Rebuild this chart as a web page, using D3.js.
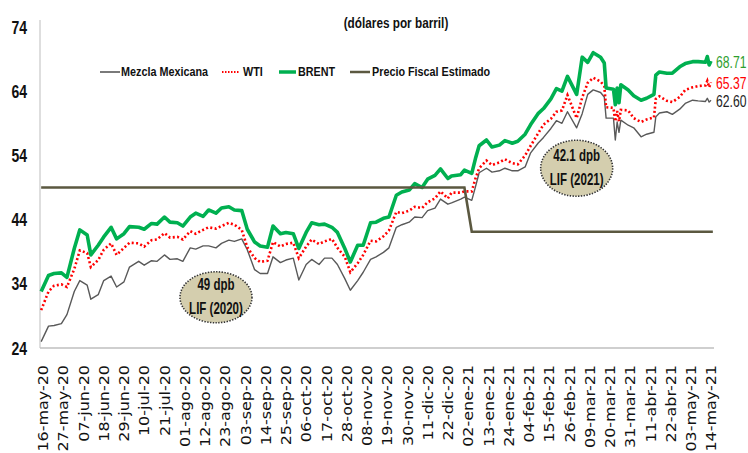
<!DOCTYPE html>
<html><head><meta charset="utf-8">
<script src="https://cdn.jsdelivr.net/npm/d3@7/dist/d3.min.js"></script>
<style>body{margin:0;background:#fff;} svg{display:block}</style>
</head><body>
<svg id="c" width="748" height="453"></svg>
<script>
// ---------- DATA ----------
const dates = ["2020-05-15","2020-05-19","2020-05-22","2020-05-26","2020-05-29",
"2020-06-02","2020-06-05","2020-06-09","2020-06-11","2020-06-15","2020-06-18","2020-06-22","2020-06-25","2020-06-29",
"2020-07-02","2020-07-07","2020-07-10","2020-07-14","2020-07-17","2020-07-21","2020-07-24","2020-07-28","2020-07-31",
"2020-08-04","2020-08-07","2020-08-11","2020-08-14","2020-08-18","2020-08-21","2020-08-25","2020-08-28",
"2020-09-01","2020-09-04","2020-09-08","2020-09-11","2020-09-15","2020-09-18","2020-09-22","2020-09-25","2020-09-29",
"2020-10-02","2020-10-06","2020-10-09","2020-10-13","2020-10-16","2020-10-20","2020-10-23","2020-10-27","2020-10-30",
"2020-11-03","2020-11-06","2020-11-10","2020-11-13","2020-11-17","2020-11-20","2020-11-24","2020-11-27",
"2020-12-01","2020-12-04","2020-12-08","2020-12-11","2020-12-15","2020-12-18","2020-12-22","2020-12-24","2020-12-29","2020-12-31",
"2021-01-04","2021-01-06","2021-01-08","2021-01-12","2021-01-15","2021-01-19","2021-01-22","2021-01-26","2021-01-29",
"2021-02-02","2021-02-05","2021-02-09","2021-02-12","2021-02-16","2021-02-19","2021-02-22","2021-02-25",
"2021-03-02","2021-03-05","2021-03-08","2021-03-11","2021-03-15","2021-03-17","2021-03-18","2021-03-22","2021-03-23","2021-03-24","2021-03-25","2021-03-26","2021-03-30",
"2021-04-02","2021-04-06","2021-04-09","2021-04-13","2021-04-14","2021-04-16","2021-04-20","2021-04-23","2021-04-27","2021-04-30",
"2021-05-04","2021-05-07","2021-05-11","2021-05-12","2021-05-13","2021-05-14"];

const brent = [32.8,35.3,35.6,35.7,35.0,
39.5,42.4,41.6,38.5,40.0,41.3,42.8,41.0,41.8,
42.9,42.8,42.5,43.4,43.3,44.4,43.6,43.5,43.0,
44.4,45.0,44.5,45.5,45.0,45.8,46.0,45.5,
45.4,42.5,40.5,39.9,39.7,43.0,41.8,42.0,41.8,
39.5,42.0,43.5,43.2,43.3,42.8,42.0,39.5,37.4,
40.0,40.0,43.5,43.6,44.2,44.4,47.8,48.3,
48.6,49.6,49.0,50.3,50.9,51.9,50.4,50.8,51.0,51.7,
51.2,53.5,55.5,56.4,55.3,55.6,56.3,55.9,56.2,
57.3,58.8,60.5,61.3,62.8,64.4,64.0,66.3,
63.5,69.3,68.5,70.0,69.3,68.4,64.5,64.3,61.9,64.5,62.2,65.0,64.2,
63.3,62.6,62.9,63.5,66.5,67.0,66.8,66.8,67.8,68.3,
68.6,68.6,68.5,69.4,68.1,68.71];

const wti = [29.9,32.8,33.7,33.9,33.5,
36.3,39.2,38.8,36.6,37.7,39.3,40.3,38.5,39.6,
40.4,40.3,39.8,40.8,40.9,41.9,41.2,41.3,40.9,
42.2,41.8,42.4,42.8,42.6,43.0,43.5,43.2,
42.4,39.7,38.0,37.4,37.6,40.5,39.8,40.2,40.4,
38.0,39.8,40.9,40.2,40.6,41.0,39.6,38.2,35.8,
37.2,38.5,40.7,40.6,41.4,42.3,45.2,45.0,
45.4,46.0,45.8,46.7,47.3,48.4,47.3,48.2,48.2,48.4,
48.4,50.4,52.0,53.2,52.5,52.9,53.4,52.8,52.6,
54.0,55.5,57.4,58.8,59.7,60.8,61.0,63.4,
59.8,63.0,65.3,66.1,65.5,64.8,61.5,61.4,59.3,60.9,59.3,61.1,61.0,
59.8,59.2,59.6,59.9,62.8,63.2,62.5,62.3,63.1,64.2,
64.6,64.8,64.9,65.6,64.6,65.37];

const mezcla = [25.0,27.4,27.5,27.8,29.2,
32.8,34.5,33.8,31.6,32.3,34.5,35.2,33.5,34.3,
36.6,37.5,36.9,37.6,37.5,38.5,37.8,37.9,37.5,
39.6,39.4,39.9,39.9,39.6,40.3,40.8,40.6,
41.0,39.3,36.2,35.6,35.6,38.2,37.3,37.7,38.0,
34.6,37.0,37.8,37.0,38.0,38.0,37.0,34.8,33.0,
34.5,35.8,37.8,38.2,38.9,39.6,42.8,43.2,
43.6,44.4,44.3,45.4,45.8,47.2,46.4,46.6,47.2,47.5,
47.0,49.1,51.3,52.0,51.4,51.6,52.0,51.6,51.6,
52.2,54.4,55.9,56.8,58.2,59.4,59.0,60.8,
58.3,60.5,63.5,64.2,63.8,63.1,59.8,59.8,56.4,59.2,57.6,59.5,58.7,
58.3,56.9,57.3,57.6,60.0,60.6,60.8,60.4,61.2,62.1,
62.6,62.5,62.4,62.9,62.3,62.60];

const fiscalDates = ["2020-05-15","2020-12-31","2021-01-04","2021-05-15"];
const fiscal = [49, 49, 42.1, 42.1];

const yTicks = [24, 34, 44, 54, 64, 74];
const tickDates = ["2020-05-16","2020-05-27","2020-06-07","2020-06-18","2020-06-29","2020-07-10","2020-07-21",
"2020-08-01","2020-08-12","2020-08-23","2020-09-03","2020-09-14","2020-09-25","2020-10-06","2020-10-17","2020-10-28",
"2020-11-08","2020-11-19","2020-11-30","2020-12-11","2020-12-22","2021-01-02","2021-01-13","2021-01-24",
"2021-02-04","2021-02-15","2021-02-26","2021-03-09","2021-03-20","2021-03-31","2021-04-11","2021-04-22","2021-05-03","2021-05-14"];
const tickLabels = ["16-may-20","27-may-20","07-jun-20","18-jun-20","29-jun-20","10-jul-20","21-jul-20",
"01-ago-20","12-ago-20","23-ago-20","03-sep-20","14-sep-20","25-sep-20","06-oct-20","17-oct-20","28-oct-20",
"08-nov-20","19-nov-20","30-nov-20","11-dic-20","22-dic-20","02-ene-21","13-ene-21","24-ene-21",
"04-feb-21","15-feb-21","26-feb-21","09-mar-21","20-mar-21","31-mar-21","11-abr-21","22-abr-21","03-may-21","14-may-21"];

const seriesNames = ["Mezcla Mexicana","WTI","BRENT","Precio Fiscal Estimado"];
const annDates = ["2020-08-18","2021-03-02"];
const annValues = [31.9, 52.0];
const annLines = [["49 dpb","LIF (2020)"],["42.1 dpb","LIF (2021)"]];
const title = "(dólares por barril)";

// ---------- CHART ----------
const parse = d3.timeParse("%Y-%m-%d");
const svg = d3.select("#c");
const x = d3.scaleTime().domain([parse("2020-05-16"), parse("2021-05-14")]).range([43, 711]);
const y = d3.scaleLinear().domain([24, 74]).range([348, 27]);
const SANS = "'Liberation Sans',Arial,sans-serif";

const C = {mez:"#595959", wti:"#ff0000", brent:"#00b050", fis:"#5b5840"};

// condensed text helper (horizontal squeeze)
function ctext(parent, tx, ty, str, o) {
  return parent.append("text")
    .attr("transform", `translate(${tx},${ty}) scale(${o.sx},1)`)
    .attr("text-anchor", o.anchor || "start")
    .attr("dominant-baseline", "central")
    .attr("font-family", SANS)
    .attr("font-weight", o.bold ? "bold" : "normal")
    .attr("font-size", o.size)
    .attr("fill", o.fill || "#111")
    .text(str);
}

// axes lines
svg.append("line").attr("x1",40).attr("x2",40).attr("y1",20).attr("y2",348).attr("stroke","#c8c8c8").attr("stroke-width",1.2);
svg.append("line").attr("x1",40).attr("x2",714).attr("y1",348).attr("y2",348).attr("stroke","#bfbfbf").attr("stroke-width",1.5);

// y axis
const ya = svg.append("g").attr("transform","translate(40,0)")
  .call(d3.axisLeft(y).tickValues(yTicks).tickSize(0).tickFormat(d3.format("d")));
ya.select(".domain").remove();
ya.selectAll("text")
  .attr("x",0).attr("dy",null)
  .attr("transform","translate(-13,0) scale(0.8,1)")
  .attr("text-anchor","end").attr("dominant-baseline","central")
  .attr("font-family",SANS).attr("font-weight","bold").attr("font-size",17.5).attr("fill","#111");

// x axis
const xa = svg.append("g").attr("transform","translate(0,348)")
  .call(d3.axisBottom(x).tickValues(tickDates.map(parse)).tickSize(0).tickFormat((d,i)=>tickLabels[i]));
xa.select(".domain").remove();
xa.selectAll("text")
  .attr("x",0).attr("y",0).attr("dy",null)
  .attr("transform","translate(0,17) rotate(-90) scale(1.1,1)")
  .attr("text-anchor","end").attr("dominant-baseline","central")
  .attr("font-family","'DejaVu Sans',sans-serif").attr("font-size",14.5).attr("fill","#111");

// lines
const line = d3.line().x(d=>x(d.date)).y(d=>y(d.v));
const mk = (ds, vs) => ds.map((d,i)=>({date:parse(d), v:vs[i]}));

svg.append("path").datum(mk(dates, mezcla)).attr("d",line).attr("fill","none")
  .attr("stroke",C.mez).attr("stroke-width",1.4).attr("stroke-linejoin","round");
svg.append("path").datum(mk(dates, wti)).attr("d",line).attr("fill","none")
  .attr("stroke",C.wti).attr("stroke-width",2.6).attr("stroke-dasharray","2,2.4");
svg.append("path").datum(mk(dates, brent)).attr("d",line).attr("fill","none")
  .attr("stroke",C.brent).attr("stroke-width",3.6).attr("stroke-linejoin","round");
svg.append("path").datum(mk(fiscalDates, fiscal)).attr("d",line).attr("fill","none")
  .attr("stroke",C.fis).attr("stroke-width",2.6);

// end labels
const endLabels = [
  {v:brent[brent.length-1], c:"#2e9e2e"},
  {v:wti[wti.length-1], c:"#ff0000"},
  {v:mezcla[mezcla.length-1], c:"#222"}];
const xEnd = x(parse(dates[dates.length-1])) + 5;
endLabels.forEach(d => ctext(svg, xEnd, y(d.v)+1, d.v.toFixed(2), {sx:0.76, size:16, fill:d.c}));

// title
ctext(svg, 396, 23, title, {sx:0.76, size:15.5, bold:true, anchor:"middle"});

// legend
const leg = [
  {x1:100,x2:120,tx:121,c:C.mez,w:1.6,dash:null},
  {x1:222,x2:240,tx:243,c:C.wti,w:2,dash:"1.5,1.5"},
  {x1:279,x2:296,tx:298,c:C.brent,w:3.5,dash:null},
  {x1:350,x2:370,tx:372,c:C.fis,w:2.5,dash:null}];
leg.forEach((l,i)=>{
  svg.append("line").attr("x1",l.x1).attr("x2",l.x2).attr("y1",72).attr("y2",72)
    .attr("stroke",l.c).attr("stroke-width",l.w).attr("stroke-dasharray",l.dash);
  ctext(svg, l.tx, 72, seriesNames[i], {sx:0.8, size:13.5, bold:true});
});

// annotations
annDates.forEach((d,i)=>{
  const cx = x(parse(d)), cy = y(annValues[i]);
  const g = svg.append("g");
  g.append("ellipse").attr("cx",cx).attr("cy",cy).attr("rx",36).attr("ry",i===0?25.5:28)
    .attr("fill","#d4ceae").attr("stroke","#333").attr("stroke-width",1.6).attr("stroke-dasharray","1.4,1.4");
  annLines[i].forEach((t,j)=>{
    ctext(g, cx, cy + (j===0 ? -13 : 11), t, {sx:0.72, size:16, bold:true, anchor:"middle"});
  });
});
</script>
</body></html>
